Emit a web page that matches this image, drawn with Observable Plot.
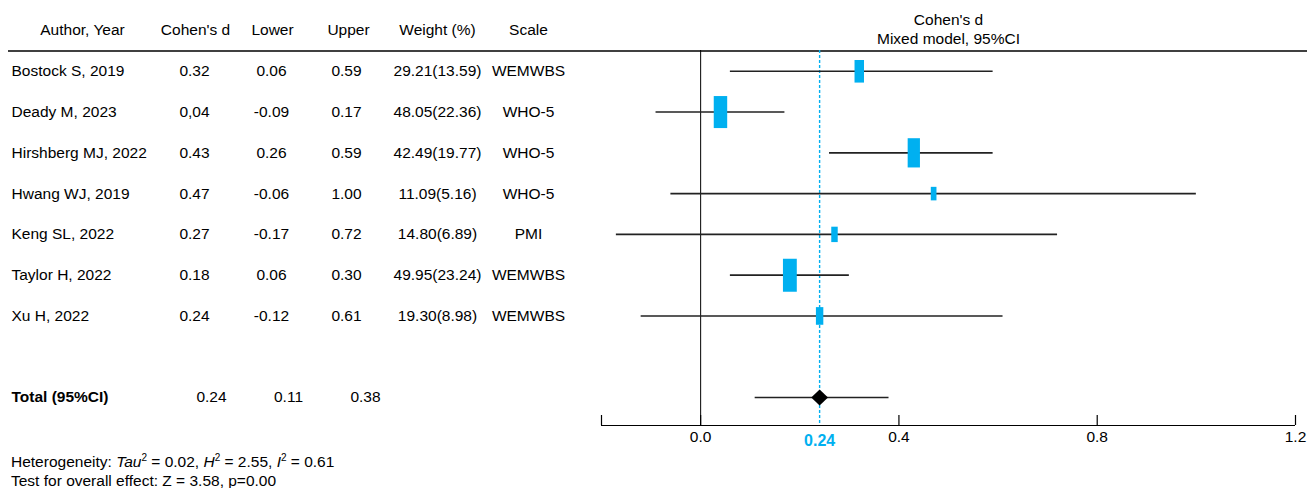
<!DOCTYPE html>
<html><head><meta charset="utf-8">
<script src="https://cdn.jsdelivr.net/npm/d3@7"></script>
<script src="https://cdn.jsdelivr.net/npm/@observablehq/plot@0.6"></script>
<style>
body{margin:0;background:#fff;font-family:"Liberation Sans",Arial,sans-serif;}
#chart svg{display:block;}
#note{font-size:15.5px;line-height:19px;padding:2px 0 0 11px;color:#000;}
#note sup{font-size:10px;vertical-align:6px;line-height:0;}
</style></head><body>
<div id="chart"></div>
<div id="note">Heterogeneity: <i>Tau</i><sup>2</sup> = 0.02, <i>H</i><sup>2</sup> = 2.55, <i>I</i><sup>2</sup> = 0.61<br>Test for overall effect: Z = 3.58, p=0.00</div>
<script>
const authors = ["Bostock S, 2019","Deady M, 2023","Hirshberg MJ, 2022","Hwang WJ, 2019","Keng SL, 2022","Taylor H, 2022","Xu H, 2022"];
const cohenD = [0.32,0.04,0.43,0.47,0.27,0.18,0.24];
const cohenDLabels = ["0.32","0,04","0.43","0.47","0.27","0.18","0.24"];
const lower = [0.06,-0.09,0.26,-0.06,-0.17,0.06,-0.12];
const upper = [0.59,0.17,0.59,1.00,0.72,0.30,0.61];
const weights = [29.21,48.05,42.49,11.09,14.80,49.95,19.30];
const weightPct = [13.59,22.36,19.77,5.16,6.89,23.24,8.98];
const scales = ["WEMWBS","WHO-5","WHO-5","WHO-5","PMI","WEMWBS","WEMWBS"];
const totalLabel = "Total (95%CI)";
const totalD = 0.24, totalLower = 0.11, totalUpper = 0.38;
const xTicks = [-0.2, 0, 0.4, 0.8, 1.2];
const headerLabels = ["Author, Year","Cohen's d","Lower","Upper","Weight (%)","Scale"];
const plotTitle = "Cohen's d\nMixed model, 95%CI";

const rows = authors.map((a, i) => ({
  i, author: a, d: cohenD[i], dLabel: cohenDLabels[i],
  lower: lower[i], upper: upper[i],
  lowerLabel: lower[i].toFixed(2), upperLabel: upper[i].toFixed(2),
  weight: weights[i], weightLabel: `${weights[i].toFixed(2)}(${weightPct[i].toFixed(2)})`,
  scale: scales[i]
}));
const total = {i: 8, label: totalLabel, d: totalD, lower: totalLower, upper: totalUpper};

const BLUE = "#00B0F0";
const W = 1307, H = 450, ML = 601, MR = 12, MT = 50, MB = 25;
const FS = 15.5;
const FONT = "'Liberation Sans', Arial, sans-serif";

// table column layout (pixel centres)
const colX = [11, 194, 271, 346, 437, 528];
const headX = [82, 195, 272, 348, 437, 528];
const colKey = ["author","dLabel","lowerLabel","upperLabel","weightLabel","scale"];

const boxSymbol = {draw(ctx, size) {const r = Math.sqrt(size / Math.PI); const w = r * 0.42; ctx.rect(-w, -r, 2 * w, 2 * r);}};
const diamondSymbol = {draw(ctx, size) {const r = Math.sqrt(size / Math.PI); ctx.moveTo(0, -r); ctx.lineTo(r * 1.05, 0); ctx.lineTo(0, r); ctx.lineTo(-r * 1.05, 0); ctx.closePath();}};

const marks = [];
// header row texts
headerLabels.forEach((h, k) => {
  marks.push(Plot.text([h], {y: () => -1, text: d => d, frameAnchor: "left", dx: headX[k] - ML,
    textAnchor: "middle", lineAnchor: "middle", fontSize: FS, fill: "#000"}));
});
marks.push(Plot.text([plotTitle], {y: () => -1, text: d => d, frameAnchor: "left", dx: (W - MR - ML) / 2, dy: -2,
  textAnchor: "middle", lineAnchor: "middle", lineHeight: 1.22, fontSize: FS, fill: "#000"}));
// header rule
marks.push(Plot.ruleY([-0.5], {insetLeft: 8 - ML, insetRight: -MR, stroke: "#000", strokeWidth: 1.5}));
// table body
colKey.forEach((key, k) => {
  marks.push(Plot.text(rows, {y: "i", text: key, frameAnchor: "left", dx: colX[k] - ML,
    textAnchor: k === 0 ? "start" : "middle", lineAnchor: "middle", fontSize: FS, fill: "#000"}));
});
// total row text
marks.push(Plot.text([total], {y: "i", text: "label", frameAnchor: "left", dx: 11 - ML, textAnchor: "start",
  lineAnchor: "middle", fontSize: FS, fontWeight: "bold", fill: "#000"}));
const totalVals = [["d", 211], ["lower", 288], ["upper", 365]];
totalVals.forEach(([key, px]) => {
  marks.push(Plot.text([total], {y: "i", text: d => d[key].toFixed(2), frameAnchor: "left", dx: px - ML,
    textAnchor: "middle", lineAnchor: "middle", fontSize: FS, fill: "#000"}));
});
// reference lines
marks.push(Plot.ruleX([0], {stroke: "#000", strokeWidth: 1}));
marks.push(Plot.ruleX([total], {x: "d", stroke: BLUE, strokeDasharray: "3,2", strokeWidth: 1.4}));
// whiskers
marks.push(Plot.ruleY(rows, {y: "i", x1: "lower", x2: "upper", stroke: "#222", strokeWidth: 1.6}));
marks.push(Plot.ruleY([total], {y: "i", x1: "lower", x2: "upper", stroke: "#222", strokeWidth: 1.6}));
// boxes
marks.push(Plot.dot(rows, {x: "d", y: "i", r: "weight", symbol: boxSymbol, fill: BLUE, stroke: "none"}));
// diamond
marks.push(Plot.dot([total], {x: "d", y: "i", r: 8, symbol: diamondSymbol, fill: "#000", stroke: "none"}));
// axis baseline (bottom of frame) and upward ticks
marks.push(Plot.ruleY([0], {y: null, dy: (H - MB) - (MT + H - MB) / 2, stroke: "#000", strokeWidth: 1.2}));
marks.push(Plot.tickX(xTicks, {x: d => d, insetTop: (H - MT - MB) - 10, stroke: "#000", strokeWidth: 1.2}));
marks.push(Plot.axisX(xTicks, {tickSize: 0, tickPadding: 5, fontSize: FS,
  tickFormat: d => d === -0.2 ? "" : d.toFixed(1)}));
// pooled estimate label
marks.push(Plot.text([total], {x: "d", frameAnchor: "bottom", dy: 15, text: d => d.d.toFixed(2),
  fill: BLUE, fontWeight: "bold", fontSize: 16, lineAnchor: "middle", textAnchor: "middle"}));

const chart = Plot.plot({
  width: W, height: H,
  marginLeft: ML, marginRight: MR, marginTop: MT, marginBottom: MB,
  style: {fontFamily: FONT, fontSize: FS + "px", color: "#000", background: "#fff"},
  x: {domain: [-0.2, 1.2]},
  y: {domain: [-1, 8], range: [30, 397], axis: null},
  r: {type: "linear", domain: [0, 60], range: [4, 19]},
  marks
});
document.getElementById("chart").appendChild(chart);
</script>
</body></html>
